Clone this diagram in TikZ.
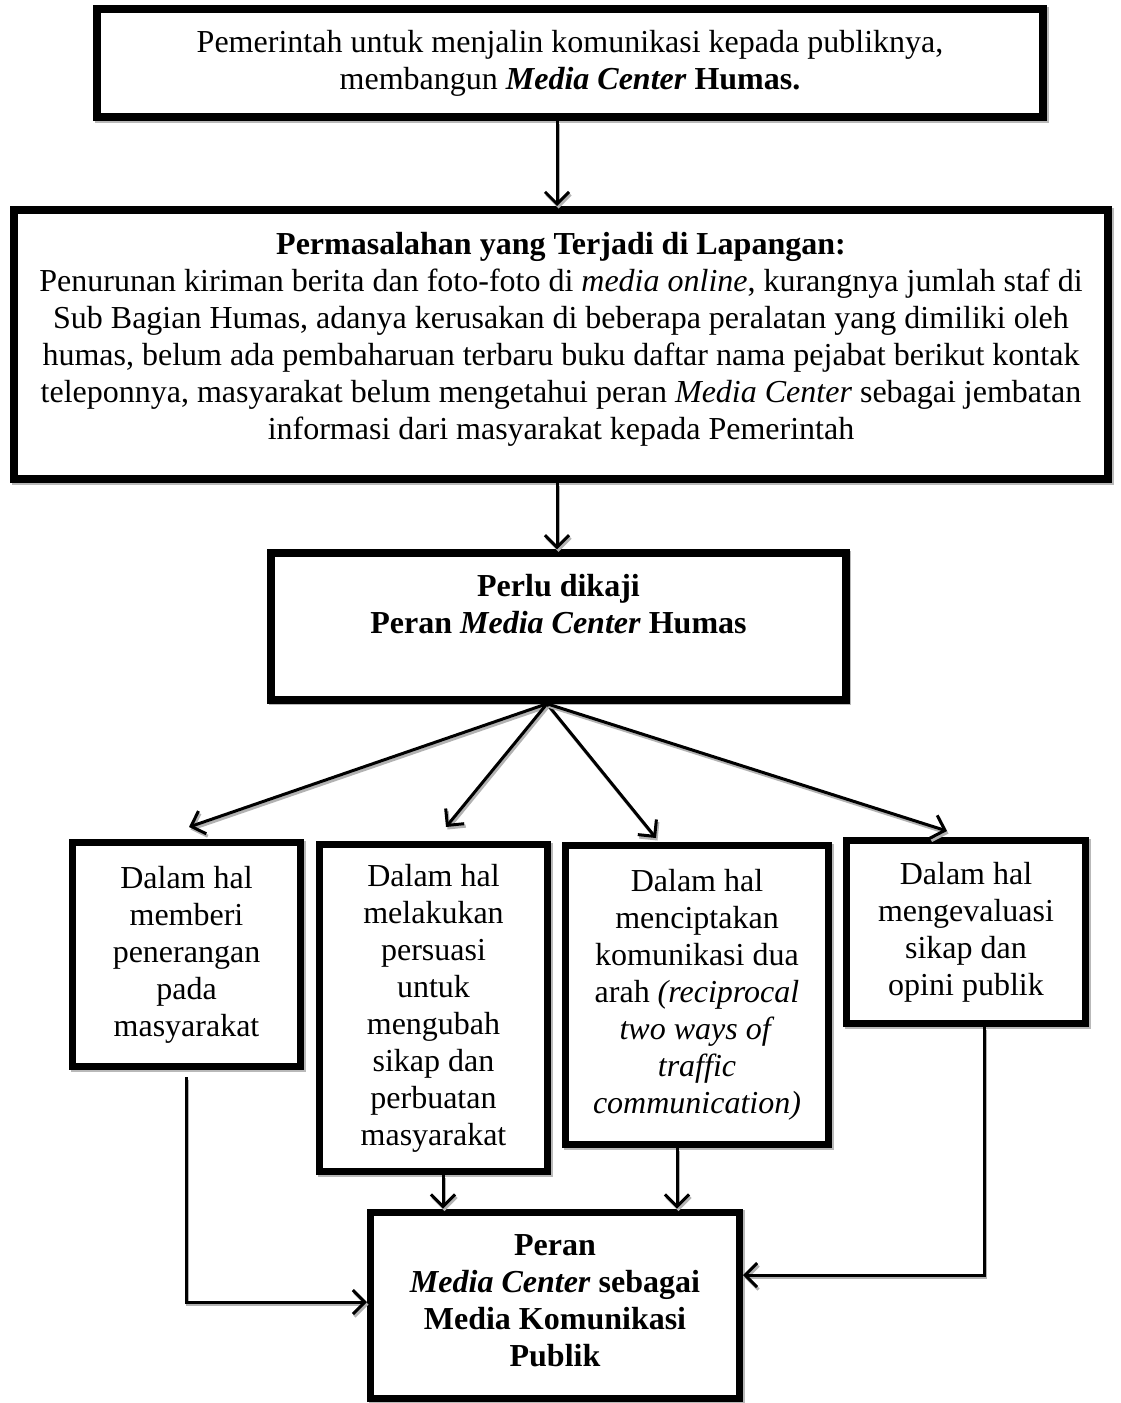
\documentclass[tikz,border=0pt]{standalone}
\usepackage{fontspec}
\setmainfont{Liberation Serif}
\usetikzlibrary{arrows.meta}
\begin{document}
\begin{tikzpicture}[x=1pt,y=-1pt,
  box/.style={draw, fill=white, line width=7pt, align=center, inner sep=0pt,
    font=\fontsize{32}{37}\selectfont,
    preaction={draw=gray!55, transform canvas={xshift=1.5pt,yshift=-1.5pt}}},
  conn/.style={line width=3pt, -{Straight Barb[length=12pt,width=24pt,line width=3pt]},
    preaction={draw=gray!60, line width=3pt, transform canvas={xshift=1.5pt,yshift=-2.5pt}}}
]
\useasboundingbox[fill=white] (0,0) rectangle (1120,1403);

\node[box, line width=8pt, minimum width=946pt, minimum height=108pt] (top) at (570,63)
  {Pemerintah untuk menjalin komunikasi kepada publiknya,\\ membangun \textbf{\textit{Media Center} Humas.}};

\node[box, line width=8pt, minimum width=1094pt, minimum height=269pt] (prob) at (561,344.5)
  {\textbf{Permasalahan yang Terjadi di Lapangan:}\\
   Penurunan kiriman berita dan foto-foto di \textit{media online}, kurangnya jumlah staf di\\
   Sub Bagian Humas, adanya kerusakan di beberapa peralatan yang dimiliki oleh\\
   humas, belum ada pembaharuan terbaru buku daftar nama pejabat berikut kontak\\
   teleponnya, masyarakat belum mengetahui peran \textit{Media Center} sebagai jembatan\\
   informasi dari masyarakat kepada Pemerintah\\[-19pt]\mbox{}};

\node[box, line width=7.5pt, minimum width=575pt, minimum height=147pt] (kaji) at (558.5,626.5)
  {\textbf{Perlu dikaji}\\ \textbf{Peran \textit{Media Center} Humas}\\[8pt] \mbox{}};

\node[box, minimum width=228pt, minimum height=224pt] (A) at (186.5,954.5)
  {Dalam hal\\ memberi\\ penerangan\\ pada\\ masyarakat};
\node[box, minimum width=228pt, minimum height=327pt] (B) at (433.5,1008)
  {Dalam hal\\ melakukan\\ persuasi\\ untuk\\ mengubah\\ sikap dan\\ perbuatan\\ masyarakat};
\node[box, minimum width=263pt, minimum height=299pt] (C) at (697,995)
  {Dalam hal\\ menciptakan\\ komunikasi dua\\ arah \textit{(reciprocal}\\ \textit{two ways of}\\ \textit{traffic}\\ \textit{communication)}};
\node[box, minimum width=239pt, minimum height=183pt] (D) at (966,932)
  {Dalam hal\\ mengevaluasi\\ sikap dan\\ opini publik};
\node[box, minimum width=369pt, minimum height=186pt] (E) at (555,1305)
  {\textbf{Peran}\\ \textbf{\textit{Media Center} sebagai}\\ \textbf{Media Komunikasi}\\ \textbf{Publik}\\[-29pt]\mbox{}};

% coordinates
\coordinate (x1) at (557,0);
\coordinate (fan) at (547,0);
\coordinate (tA) at (189,827);
\coordinate (tB) at (446,827);
\coordinate (tC) at (656,838);
\coordinate (tD) at (947,831);
\coordinate (sA) at (186,1077);
\coordinate (cA) at (186,1302);
\coordinate (xB) at (443,0);
\coordinate (xC) at (677,0);
\coordinate (cD) at (984,1275);
\coordinate (xD) at (984,0);

\draw[conn] (top.south -| x1) -- (prob.north -| x1);
\draw[conn] (prob.south -| x1) -- (kaji.north -| x1);

\draw[conn] (kaji.south -| fan) -- (tA);
\draw[conn] (kaji.south -| fan) -- (tB);
\draw[conn] (kaji.south -| fan) -- (tC);
\draw[conn] (kaji.south -| fan) -- (tD);

\draw[conn] (sA) -- (cA) -- (E.west |- cA);
\draw[conn] (D.south -| xD) -- (cD) -- (E.east |- cD);
\draw[conn] (B.south -| xB) -- (E.north -| xB);
\draw[conn] (C.south -| xC) -- (E.north -| xC);
\end{tikzpicture}
\end{document}
